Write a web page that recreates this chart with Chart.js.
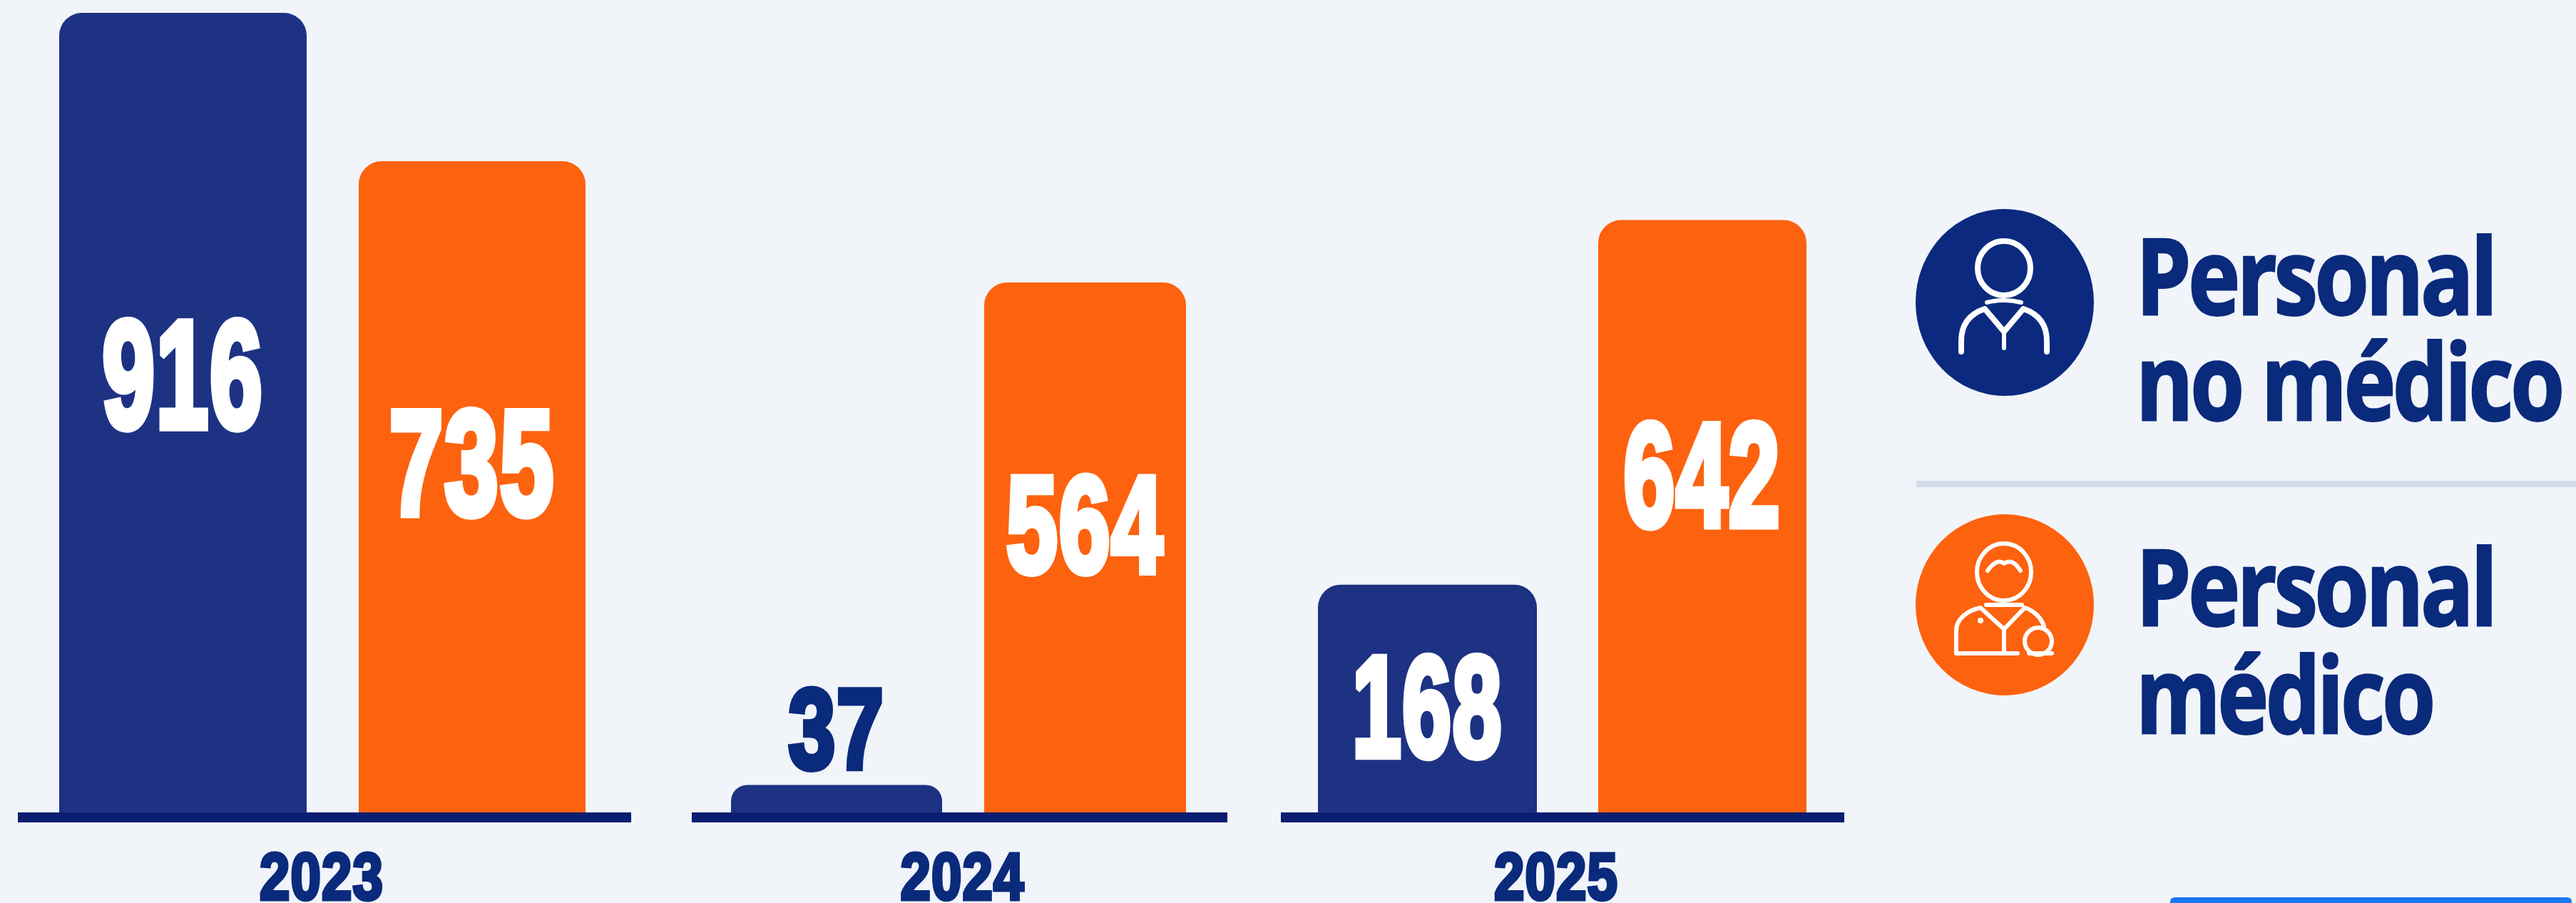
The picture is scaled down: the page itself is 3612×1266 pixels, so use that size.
<!DOCTYPE html>
<html lang="es">
<head>
<meta charset="utf-8">
<title>Personal médico y no médico</title>
<script src="https://cdn.jsdelivr.net/npm/chart.js@4"></script>
<style>
  html, body { margin: 0; padding: 0; background: #f1f4f9; width: 3612px; height: 1266px; overflow: hidden; }
  canvas { position: absolute; top: 0; }
  svg { position: absolute; left: 0; top: 0; }
  svg text { text-rendering: geometricPrecision; letter-spacing: -5px; }
</style>
</head>
<body>
<svg id="side" width="3612" height="1266" viewBox="0 0 3612 1266"></svg>
<script>
// ---- Data ----
const categories = ['2023', '2024', '2025'];
const seriesNames = ['Personal no médico', 'Personal médico'];
// Numbers printed on the bars.
const printedNoMedico = [916, 37, 168];
const printedMedico = [735, 564, 642];
// Bar heights as drawn in the reference, in the units of the top bar (916).
// The source graphic does not draw its bars in proportion to the printed numbers.
const drawnNoMedico = [916, 37, 265];
const drawnMedico = [747, 609, 680];
const legendLines = [['Personal', 'no médico'], ['Personal', 'médico']];

// ---- Style and layout ----
const DIGITS = '"Liberation Sans", sans-serif';
const LEGEND_FONT = '"Open Sans", "Noto Sans", sans-serif';
const BLUE = '#1d3283', ORANGE = '#fd620f', NAVY = '#0a2a7c', AXIS = '#0c1e70';
const panels = [
  { left: 25,  width: 860, blue: [0.9233, 0.874], orange: [0.9628, 0.768], yearShift: -4 },
  { left: 970, width: 751, blue: [0.9188, 0.858], orange: [0.9374, 0.804], yearShift: 4 },
  { left: 1796, width: 790, blue: [0.9595, 0.810], orange: [0.9924, 0.745], yearShift: -9 }
];
// Per label: vertical anchor as a share of bar height from its top, cap height, text width, colour.
const labelStyles = [
  [{ at: 0.449, cap: 161, w: 226, c: '#ffffff' }, { at: 0.459, cap: 157, w: 232, c: '#ffffff' }],
  [{ at: -1.74, cap: 120, w: 135, c: NAVY }, { at: 0.451, cap: 145, w: 221, c: '#ffffff' }],
  [{ at: 0.521, cap: 151, w: 211, c: '#ffffff' }, { at: 0.425, cap: 155, w: 221, c: '#ffffff' }]
];
const yearStyle = { cap: 70, w: 174, c: NAVY, centerY: 1228 };

function squeezedText(ctx, text, x, cy, cap, width, colour) {
  const lw = cap * 0.07;
  const inner = cap - lw;
  ctx.save();
  ctx.textRendering = 'geometricPrecision';
  ctx.font = 'bold ' + (inner / 0.70) + 'px ' + DIGITS;
  ctx.letterSpacing = (cap * 0.02) + 'px';
  const sx = width / ctx.measureText(text).width;
  ctx.translate(x, cy);
  ctx.scale(sx, 1);
  ctx.textAlign = 'center';
  ctx.textBaseline = 'alphabetic';
  ctx.fillStyle = colour;
  ctx.strokeStyle = colour;
  ctx.lineWidth = lw;
  ctx.lineJoin = 'miter';
  ctx.miterLimit = 2;
  ctx.strokeText(text, 0, inner / 2);
  ctx.fillText(text, 0, inner / 2);
  ctx.restore();
}

const barLabels = {
  id: 'barLabels',
  afterDatasetsDraw(chart, args, opts) {
    chart.data.datasets.forEach((ds, d) => {
      const bar = chart.getDatasetMeta(d).data[0];
      const s = opts.styles[d];
      const y = bar.y + (bar.base - bar.y) * s.at;
      squeezedText(chart.ctx, String(ds.printed), bar.x, y, s.cap, s.w, s.c);
    });
    // Condensed category labels, placed from the category axis.
    const xs = chart.scales.x;
    xs.ticks.forEach((t, k) => {
      squeezedText(chart.ctx, xs.getLabelForValue(t.value), xs.getPixelForTick(k) + opts.yearShift,
        yearStyle.centerY, yearStyle.cap, yearStyle.w, yearStyle.c);
    });
  }
};

categories.forEach((year, i) => {
  const p = panels[i];
  const canvas = document.createElement('canvas');
  canvas.style.left = p.left + 'px';
  canvas.style.width = p.width + 'px';
  canvas.style.height = '1266px';
  canvas.width = p.width;
  canvas.height = 1266;
  document.body.appendChild(canvas);
  new Chart(canvas, {
    type: 'bar',
    plugins: [barLabels],
    data: {
      labels: [year],
      datasets: [
        { label: seriesNames[0], data: [drawnNoMedico[i]], printed: printedNoMedico[i],
          backgroundColor: BLUE, categoryPercentage: p.blue[0], barPercentage: p.blue[1], borderRadius: 32 },
        { label: seriesNames[1], data: [drawnMedico[i]], printed: printedMedico[i],
          backgroundColor: ORANGE, categoryPercentage: p.orange[0], barPercentage: p.orange[1], borderRadius: 32 }
      ]
    },
    options: {
      responsive: false,
      animation: false,
      layout: { padding: { top: 18, left: 0, right: 0, bottom: 0 } },
      plugins: {
        legend: { display: false },
        tooltip: { enabled: false },
        barLabels: { styles: labelStyles[i], yearShift: p.yearShift }
      },
      scales: {
        y: { display: false, min: 0, max: 916 },
        x: {
          afterFit(axis) { axis.height = 120; },
          grid: { display: false, drawTicks: false },
          border: { display: true, color: AXIS, width: 14, z: 1 },
          ticks: { display: false, autoSkip: false }
        }
      }
    }
  });
});

// ---- Side legend ----
const NS = 'http://www.w3.org/2000/svg';
const side = document.getElementById('side');
function add(tag, attrs, text) {
  const el = document.createElementNS(NS, tag);
  Object.keys(attrs).forEach(k => el.setAttribute(k, attrs[k]));
  if (text !== undefined) el.textContent = text;
  side.appendChild(el);
  return el;
}
add('ellipse', { cx: 2811, cy: 424, rx: 125, ry: 131, fill: '#0b2a7f' });
add('ellipse', { cx: 2811, cy: 848, rx: 125, ry: 127, fill: ORANGE });
add('rect', { x: 2687, y: 674, width: 925, height: 9, fill: '#d3dae8' });
add('path', { d: 'M3043 1266 V1264 Q3043 1258 3050 1258 H3599 Q3606 1258 3606 1264 V1266 Z', fill: '#1a78f0' });

const line = { fill: 'none', stroke: '#ffffff', 'stroke-width': 8, 'stroke-linecap': 'round', 'stroke-linejoin': 'round' };
const thin = Object.assign({}, line, { 'stroke-width': 6 });
// Person icon
add('ellipse', Object.assign({ cx: 2810, cy: 376, rx: 37, ry: 38 }, line));
add('path', Object.assign({ d: 'M2750 493 V478 C2750 455 2762 440 2783 433 L2810 465 L2837 433 C2858 440 2870 455 2870 478 V493' }, line));
add('path', Object.assign({ d: 'M2810 465 V488 M2786 424 Q2810 418 2834 424' }, thin));
// Doctor icon
add('ellipse', Object.assign({ cx: 2810, cy: 802, rx: 38, ry: 40 }, thin));
add('path', Object.assign({ d: 'M2787 800 Q2800 782 2810 790 Q2822 782 2833 800' }, thin));
add('path', Object.assign({ d: 'M2743 916 H2829 M2743 916 V884 C2743 868 2758 856 2777 852 L2810 882 L2839 852 C2852 856 2862 866 2866 878 M2810 882 V916 M2785 848 H2835' }, thin));
add('circle', Object.assign({ cx: 2858, cy: 899, r: 19 }, thin));
add('path', Object.assign({ d: 'M2845 916 H2877' }, thin));
add('circle', { cx: 2777, cy: 870, r: 4, fill: '#ffffff' });

const baselines = [[441, 589], [877, 1028]];
const lineWidths = [[503, 597], [503, 416]];
legendLines.forEach((lines, a) => lines.forEach((txt, b) => {
  const t = add('text', {
    x: 0, y: 0, fill: NAVY, stroke: NAVY, 'stroke-width': 3,
    'font-family': LEGEND_FONT, 'font-weight': 700, 'font-size': 148
  }, txt);
  const sx = lineWidths[a][b] / t.getComputedTextLength();
  t.setAttribute('transform', 'translate(2995 ' + baselines[a][b] + ') scale(' + sx + ' 1)');
}));
</script>
</body>
</html>
